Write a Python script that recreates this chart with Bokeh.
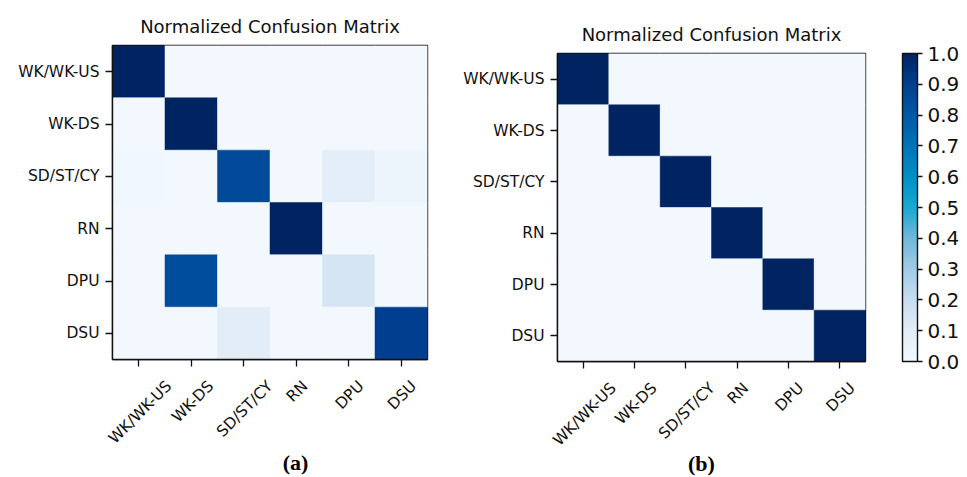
import math
from bokeh.plotting import figure
from bokeh.layouts import row, column
from bokeh.models import (Range1d, FixedTicker, LinearColorMapper, ColorBar,
                          PrintfTickFormatter, LinearAxis, ColumnDataSource)
from bokeh.transform import transform
from bokeh.embed import file_html
from bokeh.resources import INLINE

# Class names (rows = true class, columns = predicted class)
classes = ["WK/WK-US", "WK-DS", "SD/ST/CY", "RN", "DPU", "DSU"]

# (a) normalized confusion matrix, one list per true class
a_wk_us = [1.00, 0.00, 0.00, 0.00, 0.00, 0.00]
a_wk_ds = [0.00, 1.00, 0.00, 0.00, 0.00, 0.00]
a_sd_st_cy = [0.01, 0.00, 0.86, 0.00, 0.09, 0.04]
a_rn = [0.00, 0.00, 0.00, 1.00, 0.00, 0.00]
a_dpu = [0.00, 0.85, 0.00, 0.00, 0.15, 0.00]
a_dsu = [0.00, 0.00, 0.10, 0.00, 0.00, 0.90]

# (b) normalized confusion matrix
b_wk_us = [1.00, 0.00, 0.00, 0.00, 0.00, 0.00]
b_wk_ds = [0.00, 1.00, 0.00, 0.00, 0.00, 0.00]
b_sd_st_cy = [0.00, 0.00, 1.00, 0.00, 0.00, 0.00]
b_rn = [0.00, 0.00, 0.00, 1.00, 0.00, 0.00]
b_dpu = [0.00, 0.00, 0.00, 0.00, 1.00, 0.00]
b_dsu = [0.00, 0.00, 0.00, 0.00, 0.00, 1.00]

cbar_ticks = [0.0, 0.1, 0.2, 0.3, 0.4, 0.5, 0.6, 0.7, 0.8, 0.9, 1.0]

# Blue colour scale with a cyan middle, built from anchor colours
anchors = ["#f2f8fe", "#e2edf8", "#c8ddf0", "#a0cbe6", "#70b8da", "#18a8d0",
           "#0090c8", "#0074ba", "#005aa8", "#004090", "#002462"]


def hex2rgb(h):
    return tuple(int(h[i:i + 2], 16) for i in (1, 3, 5))


palette = []
n = 256
for k in range(n):
    t = k / (n - 1) * (len(anchors) - 1)
    i = min(int(t), len(anchors) - 2)
    f = t - i
    c0, c1 = hex2rgb(anchors[i]), hex2rgb(anchors[i + 1])
    palette.append("#%02x%02x%02x" % tuple(round(c0[j] + (c1[j] - c0[j]) * f) for j in range(3)))

mapper = LinearColorMapper(palette=palette, low=0.0, high=1.0)

FONT = "DejaVu Sans"
TICK_PX = 15.5
INK = "#111111"

# approximate DejaVu Sans advance widths (em), used to centre the rotated labels
ADV = {"W": .989, "K": .656, "/": .337, "-": .361, "U": .732, "S": .635,
       "D": .770, "T": .611, "C": .698, "Y": .611, "R": .695, "N": .748,
       "P": .603}


def text_width(s, px):
    return sum(ADV.get(ch, .6) for ch in s) * px


def matrix_source(rows):
    xs, ys, vs = [], [], []
    for i, r in enumerate(rows):
        for j, v in enumerate(r):
            xs.append(j + 0.5)
            ys.append(i + 0.5)
            vs.append(v)
    return ColumnDataSource(dict(x=xs, y=ys, v=vs))


def make_panel(rows, width, border_left, border_right, border_top, frame, frame_h,
               caption, caption_x, caption_gap):
    p = figure(width=width, height=477, frame_width=frame, frame_height=frame_h,
               min_border_left=border_left, min_border_right=border_right,
               min_border_top=border_top, min_border_bottom=10,
               x_range=Range1d(0, 6), y_range=Range1d(6, 0),
               output_backend="svg", toolbar_location=None,
               title="Normalized Confusion Matrix")
    src = matrix_source(rows)
    p.rect(x="x", y="y", width=1, height=1, source=src,
           fill_color=transform("v", mapper), line_color=transform("v", mapper),
           line_width=0.5)
    p.grid.visible = False
    p.outline_line_color = INK
    p.outline_line_width = 1.4
    p.background_fill_color = "white"
    p.border_fill_color = "white"

    p.title.align = "center"
    p.title.standoff = 17
    p.title.text_font = FONT
    p.title.text_font_size = "18px"
    p.title.text_font_style = "normal"
    p.title.text_color = INK

    for ax in (p.xaxis[0], p.yaxis[0]):
        ax.major_label_text_font = FONT
        ax.major_label_text_font_size = "%.1fpx" % TICK_PX
        ax.major_label_text_color = INK
        ax.axis_line_color = INK
        ax.axis_line_width = 1.4

    # y axis: one tick per class
    ya = p.yaxis[0]
    ya.ticker = FixedTicker(ticks=[i + 0.5 for i in range(6)])
    ya.major_label_overrides = {i + 0.5: c for i, c in enumerate(classes)}
    ya.major_tick_in = 0
    ya.major_tick_out = 7
    ya.major_tick_line_color = INK
    ya.major_tick_line_width = 1.3
    ya.minor_tick_line_color = None
    ya.major_label_standoff = 6

    # x axis: tick marks at the cell centres (minor ticks), rotated labels
    # anchored so that each label is centred under its cell
    unit_x = frame / 6.0
    label_pos = []
    for j, name in enumerate(classes):
        w = text_width(name, TICK_PX)
        shift = (w + 11) / (2 * math.sqrt(2)) - 3
        label_pos.append(j + 0.5 + shift / unit_x)
    xa = p.xaxis[0]
    xa.ticker = FixedTicker(ticks=label_pos, minor_ticks=[j + 0.5 for j in range(6)])
    xa.major_label_overrides = {pos: name for pos, name in zip(label_pos, classes)}
    xa.major_label_orientation = math.pi / 4
    xa.major_tick_in = 0
    xa.major_tick_out = 7
    xa.major_tick_line_color = None
    xa.minor_tick_in = 0
    xa.minor_tick_out = 7
    xa.minor_tick_line_color = INK
    xa.minor_tick_line_width = 1.3
    xa.major_label_standoff = 17

    # panel caption: a bare axis below the tick labels carrying one label
    cap = LinearAxis(ticker=FixedTicker(ticks=[caption_x]),
                     major_label_overrides={caption_x: caption},
                     axis_line_color=None, major_tick_line_color=None,
                     minor_tick_line_color=None, major_tick_in=0, major_tick_out=0,
                     major_label_standoff=caption_gap,
                     major_label_text_font="Liberation Serif",
                     major_label_text_font_size="22px",
                     major_label_text_font_style="bold",
                     major_label_text_color="black")
    p.add_layout(cap, "below")
    return p


left = make_panel([a_wk_us, a_wk_ds, a_sd_st_cy, a_rn, a_dpu, a_dsu],
                  width=460, border_left=112, border_right=33, border_top=45,
                  frame=315, frame_h=314, caption="(a)", caption_x=3.486,
                  caption_gap=-7)

right = make_panel([b_wk_us, b_wk_ds, b_sd_st_cy, b_rn, b_dpu, b_dsu],
                   width=507, border_left=96, border_right=103, border_top=53,
                   frame=308, frame_h=308, caption="(b)", caption_x=2.805,
                   caption_gap=-8)

cbar = ColorBar(color_mapper=mapper, ticker=FixedTicker(ticks=cbar_ticks),
                formatter=PrintfTickFormatter(format="%.1f"),
                width=15, height=308, padding=0, location=(37, 0),
                major_tick_in=0, major_tick_out=5,
                major_tick_line_color=INK, major_tick_line_width=1.3,
                minor_tick_line_color=None,
                bar_line_color=INK, bar_line_width=1.4,
                border_line_color=None, background_fill_alpha=0,
                label_standoff=5,
                major_label_text_font=FONT, major_label_text_font_size="20px",
                major_label_text_color=INK)
right.add_layout(cbar, "right")

layout = row(column(left), column(right), spacing=0)
open("out.html", "w").write(file_html(layout, INLINE))
